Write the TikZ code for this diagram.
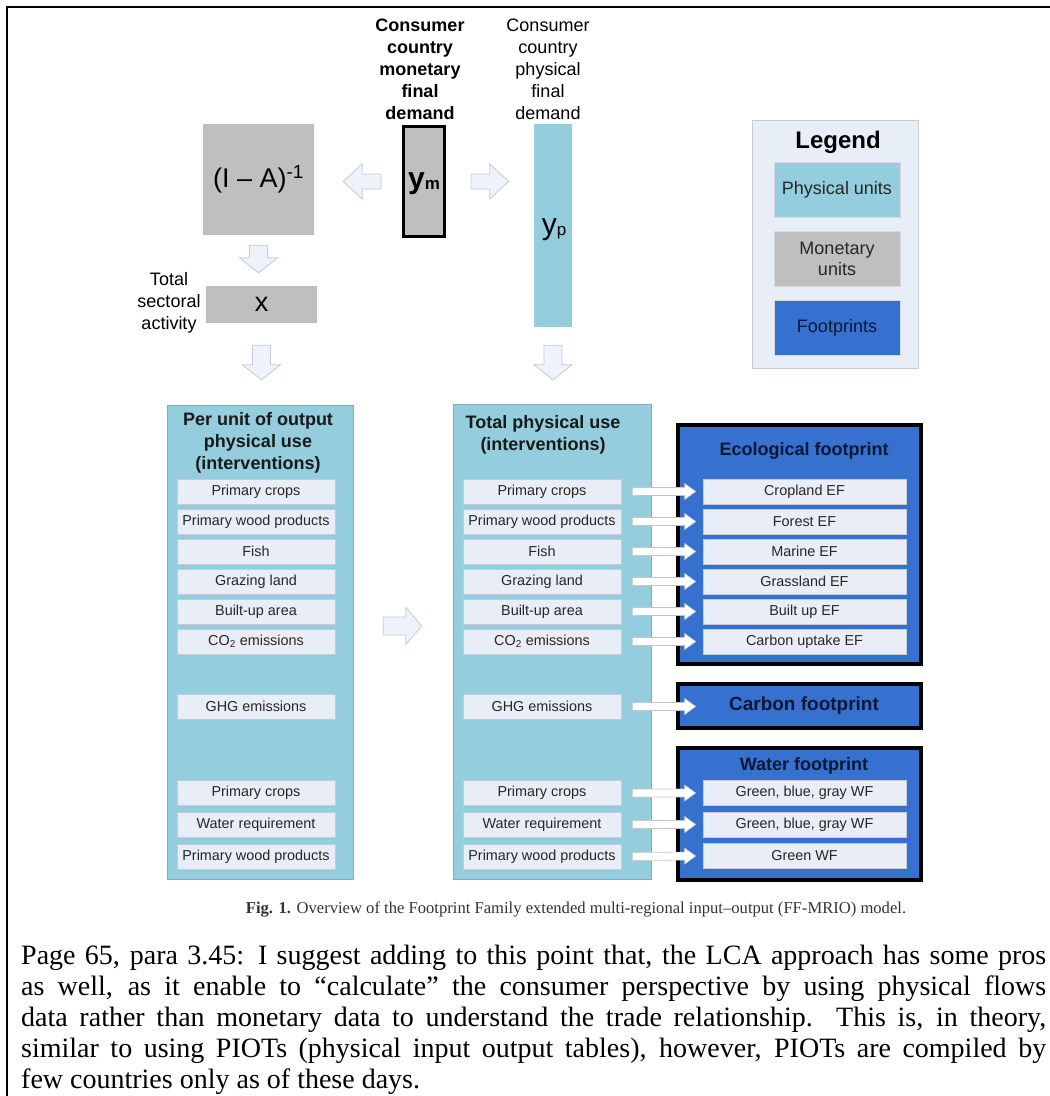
\documentclass[tikz,border=0pt]{standalone}
\usepackage{fontspec}
\setmainfont{Liberation Sans}
\newfontfamily\serifp{Liberation Serif}
\usetikzlibrary{calc}
\definecolor{phys}{HTML}{94CDDD}
\definecolor{mon}{HTML}{BFBFBF}
\definecolor{foot}{HTML}{3671CF}
\definecolor{itemfill}{HTML}{E9EDF6}
\definecolor{itemedge}{HTML}{C4CAD6}
\definecolor{legfill}{HTML}{E8EEF8}
\definecolor{legedge}{HTML}{C8CDD5}
\definecolor{palefill}{HTML}{EEF2FA}
\definecolor{paleedge}{HTML}{C3CAD7}
\definecolor{navy}{HTML}{0B1736}
\newcommand\fsz[2]{\fontsize{#1}{#2}\selectfont}
% block arrow: #1 style, #2 start, #3 tip, #4 half shaft, #5 half head, #6 head length
\newcommand\blockarrow[6]{%
  \coordinate (ba-s) at (#2);
  \coordinate (ba-t) at (#3);
  \coordinate (ba-h) at ($(ba-t)!#6!(ba-s)$);
  \draw[#1] ($(ba-s)!#4!90:(ba-t)$) -- ($(ba-h)!#4!-90:(ba-s)$) -- ($(ba-h)!#5!-90:(ba-s)$)
    -- (ba-t) -- ($(ba-h)!#5!90:(ba-s)$) -- ($(ba-h)!#4!90:(ba-s)$) -- ($(ba-s)!#4!-90:(ba-t)$) -- cycle;}
\tikzset{
  every node/.style={inner sep=0pt},
  item/.style={draw=itemedge, fill=itemfill, line width=0.6pt, minimum width=158pt, minimum height=25pt, font=\fsz{14.4}{16}, text=black!85},
  efitem/.style={item, minimum width=203pt},
  panel/.style={fill=phys, draw=phys!85!black, line width=0.4pt},
  footbox/.style={fill=foot, draw=black, line width=4pt, minimum width=243pt},
  foottitle/.style={font=\bfseries\fsz{18}{22}, text=navy},
  ptitle/.style={font=\bfseries\fsz{18}{22}, align=center, text=black!90},
  pale/.style={fill=palefill, draw=paleedge, line width=0.8pt, line join=miter},
  warrow/.style={fill=white, draw=black!22, line width=0.6pt},
  legitem/.style={minimum width=126pt, minimum height=55pt, font=\fsz{18}{21}, align=center, text=black!85, draw=black!15, line width=0.4pt},
  para/.style={font=\serifp\fsz{28}{31}, anchor=base west}
}
\begin{document}
\begin{tikzpicture}[x=1pt, y=-1pt]
\useasboundingbox (0,0) rectangle (1050,1096);
\fill[white] (0,0) rectangle (1050,1096);
\draw[line width=2pt] (6,6.5) -- (1050,6.5);
\draw[line width=2pt] (7,5.5) -- (7,1096);

% top labels
\node[align=center, font=\bfseries\fsz{18}{22}] (lblm) at (420,69) {Consumer\\country\\monetary\\final\\demand};
\node[align=center, font=\fsz{18}{22}] (lblp) at (548,69) {Consumer\\country\\physical\\final\\demand};

% monetary boxes
\node[fill=mon, minimum width=111pt, minimum height=111pt, font=\fsz{27}{30}] (ia) at (258.5,179.5) {(I -- A)\textsuperscript{-1}};
\node[fill=mon, draw=black, line width=3pt, minimum width=41pt, minimum height=110pt] (ym) at (424,181.5) {};
\node[font=\bfseries\fsz{30}{30}] (ymt) at (424,184) {y\raisebox{-1pt}{\fsz{17}{17}m}};
\node[fill=phys, minimum width=38pt, minimum height=203pt] (yp) at (553,225.5) {};
\node[font=\fsz{30}{30}] (ypt) at (554,230) {y\raisebox{-1pt}{\fsz{17}{17}p}};
\node[fill=mon, minimum width=111pt, minimum height=37pt, font=\fsz{27}{30}] (xb) at (261.5,304.5) {x};
\node[align=center, font=\fsz{18}{22}] (tsa) at (169,303) {Total\\sectoral\\activity};

% legend
\node[fill=legfill, draw=legedge, line width=0.8pt, minimum width=166pt, minimum height=248pt] (leg) at (835,244) {};
\node[font=\bfseries\fsz{24}{26}] (legt) at (838,142) {Legend};
\node[legitem, fill=phys] (lg1) at (837,189.5) {Physical units};
\node[legitem, fill=mon] (lg2) at (837,259) {Monetary\\units};
\node[legitem, fill=foot, text=navy] (lg3) at (837,328) {Footprints};

% panels
\node[panel, minimum width=186pt, minimum height=474pt] (lp) at (260,642) {};
\node[panel, minimum width=198pt, minimum height=475pt] (tp) at (552,641.5) {};
\node[ptitle] (lpt) at (258,443) {Per unit of output\\physical use\\(interventions)};
\node[ptitle] (tpt) at (543,435) {Total physical use\\(interventions)};

% footprint boxes
\node[footbox, minimum height=239pt] (ef) at (799.5,544.5) {};
\node[footbox, minimum height=44pt] (cf) at (799.5,706) {};
\node[footbox, minimum height=132pt] (wf) at (799.5,814) {};
\node[foottitle] (eft) at (804,451) {Ecological footprint};
\node[foottitle, font=\bfseries\fsz{19}{22}] (cft) at (804,706) {Carbon footprint};
\node[foottitle] (wft) at (804,766) {Water footprint};

% items
\foreach \n/\y/\t in {1/491.5/{Primary crops}, 2/521.5/{Primary wood products}, 3/551.5/{Fish}, 4/581.5/{Grazing land}, 5/611.5/{Built-up area}, 6/641.5/{CO\textsubscript{2} emissions}, 7/706.5/{GHG emissions}, 8/793/{Primary crops}, 9/824.5/{Water requirement}, 10/856.5/{Primary wood products}}{
  \node[item] (lp\n) at (256,\y) {\t};
  \node[item] (tp\n) at (542,\y) {\t};
}
\foreach \n/\y/\t in {1/491.5/{Cropland EF}, 2/521.5/{Forest EF}, 3/551.5/{Marine EF}, 4/581.5/{Grassland EF}, 5/611.5/{Built up EF}, 6/641.5/{Carbon uptake EF}}{
  \node[efitem] (ef\n) at (804.5,\y) {\t};
}
\foreach \n/\y/\t in {1/793/{Green, blue, gray WF}, 2/824.5/{Green, blue, gray WF}, 3/856/{Green WF}}{
  \node[efitem] (wf\n) at (804.5,\y) {\t};
}

% white arrows
\foreach \n in {1,...,6}{
  \blockarrow{warrow}{[xshift=11pt]tp\n.east}{[xshift=-7pt]ef\n.west}{4pt}{8pt}{11pt}
}
\coordinate (c-cf) at (wf1.west |- tp7.east);
\blockarrow{warrow}{[xshift=11pt]tp7.east}{[xshift=-7pt]c-cf}{4pt}{8pt}{11pt}
\foreach \a/\b in {8/1, 9/2, 10/3}{
  \blockarrow{warrow}{[xshift=11pt]tp\a.east}{[xshift=-7pt]wf\b.west}{4pt}{8pt}{11pt}
}

% pale block arrows
\coordinate (c-ia) at (ia.east |- ym.west);
\coordinate (c-yp) at (yp.west |- ym.east);
\blockarrow{pale}{[xshift=-21pt]ym.west}{[xshift=29pt]c-ia}{7.5pt}{17.5pt}{19pt}
\blockarrow{pale}{[xshift=25pt]ym.east}{[xshift=-25pt]c-yp}{7.5pt}{17.5pt}{19pt}
\coordinate (c-x) at (ia.south |- xb.north);
\blockarrow{pale}{[yshift=-10pt]ia.south}{[yshift=13pt]c-x}{9pt}{19pt}{15pt}
\coordinate (c-lp) at (xb.south |- lp.north);
\blockarrow{pale}{[yshift=-22pt]xb.south}{[yshift=25pt]c-lp}{9pt}{19pt}{15pt}
\coordinate (c-tp) at (yp.south |- tp.north);
\blockarrow{pale}{[yshift=-18pt]yp.south}{[yshift=24pt]c-tp}{9pt}{19pt}{15pt}
\coordinate (c-m1) at ([yshift=16pt]lp.east);
\coordinate (c-m2) at (tp.west |- c-m1);
\blockarrow{pale}{[xshift=30pt]c-m1}{[xshift=-31pt]c-m2}{9pt}{18.5pt}{16pt}

% caption
\node[font=\serifp\fsz{16.6}{19}, text=black!80] (cap) at (576,909) {\textbf{Fig. 1.} Overview of the Footprint Family extended multi-regional input–output (FF-MRIO) model.};

% paragraph
\node[para] (p1) at (21,964) {\makebox[1025pt][s]{Page 65, para 3.45: I suggest adding to this point that, the LCA approach has some pros}};
\node[para] (p2) at (21,995) {\makebox[1025pt][s]{as well, as it enable to “calculate” the consumer perspective by using physical flows}};
\node[para] (p3) at (21,1026) {\makebox[1025pt][s]{data rather than monetary data to understand the trade relationship. This is, in theory,}};
\node[para] (p4) at (21,1057) {\makebox[1025pt][s]{similar to using PIOTs (physical input output tables), however, PIOTs are compiled by}};
\node[para] (p5) at (21,1088) {few countries only as of these days.};
\end{tikzpicture}
\end{document}
